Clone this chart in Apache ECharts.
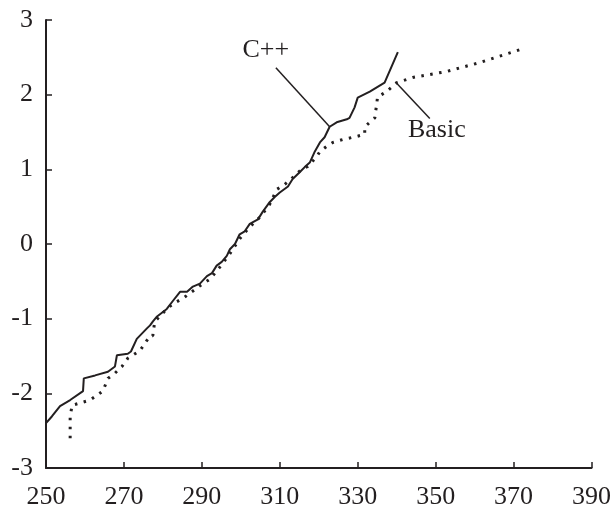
<!DOCTYPE html>
<html>
<head>
<meta charset="utf-8">
<script src="https://cdn.jsdelivr.net/npm/echarts@6/dist/echarts.min.js"></script>
<style>
html,body{margin:0;padding:0;background:#fff;}
#chart{width:614px;height:510px;}
</style>
</head>
<body>
<div id="chart"></div>
<script>
// C++ series: observed value vs normal quantile
var cppValues = [250.0,251.5,253.6,256.2,259.5,259.7,262.6,265.9,267.7,268.2,271.0,271.8,273.3,275.9,276.7,277.4,278.5,281.0,282.6,284.4,286.2,287.7,289.5,291.3,292.6,293.8,295.1,296.4,297.2,298.5,299.7,301.0,302.3,304.4,305.6,307.4,308.7,310.0,312.1,313.3,315.1,316.4,317.7,319.0,320.3,321.5,322.8,324.6,327.2,327.9,329.2,330.0,333.1,336.9,340.3];
var cppQuantiles = [-2.40,-2.31,-2.17,-2.09,-1.97,-1.80,-1.76,-1.71,-1.64,-1.49,-1.47,-1.44,-1.27,-1.13,-1.09,-1.04,-0.97,-0.87,-0.76,-0.64,-0.64,-0.57,-0.53,-0.43,-0.39,-0.29,-0.24,-0.16,-0.07,0.00,0.13,0.17,0.27,0.33,0.43,0.56,0.63,0.69,0.77,0.87,0.96,1.03,1.09,1.24,1.36,1.43,1.57,1.63,1.67,1.69,1.83,1.96,2.04,2.16,2.57];
// Basic series
var basicValues = [256.2,256.2,256.7,258.7,261.3,264.6,265.9,267.7,269.5,271.0,274.1,276.7,277.4,277.9,281.0,282.6,285.1,287.7,289.5,292.1,294.6,297.2,299.7,302.3,304.9,307.4,309.2,311.3,313.3,315.6,317.2,319.5,320.3,322.1,323.6,326.2,329.7,331.8,331.8,334.4,335.1,337.4,340.0,344.1,352.8,361.3,371.5];
var basicQuantiles = [-2.60,-2.31,-2.16,-2.13,-2.09,-1.97,-1.80,-1.73,-1.64,-1.53,-1.43,-1.23,-1.23,-1.04,-0.87,-0.80,-0.73,-0.63,-0.56,-0.47,-0.31,-0.13,0.07,0.23,0.36,0.53,0.73,0.80,0.89,1.00,1.04,1.17,1.24,1.31,1.36,1.40,1.44,1.47,1.57,1.69,1.97,2.04,2.16,2.23,2.31,2.43,2.60];
// annotation labels
var labelNames = ['C++','Basic'];
var labelPos = [[306.4,2.59],[350.3,1.52]];
var pointerFrom = [[309.0,2.36],[339.7,2.17]];
var pointerTo = [[322.8,1.57],[348.5,1.68]];
var xTicks = [250,270,290,310,330,350,370,390];
var yTicks = [-3,-2,-1,0,1,2,3];

function pairs(a,b){ return a.map(function(v,i){ return [v,b[i]]; }); }

var font = 'Liberation Serif';
var ink = '#231f20';
var chart = echarts.init(document.getElementById('chart'), null, {renderer:'canvas'});
chart.setOption({
  animation:false,
  backgroundColor:'#fff',
  grid:{left:46,right:22,top:20,bottom:40,containLabel:false},
  xAxis:{type:'value',min:xTicks[0],max:xTicks[xTicks.length-1],interval:20,
    axisLine:{onZero:false,lineStyle:{color:ink,width:2}},
    axisTick:{inside:true,length:6,lineStyle:{color:ink,width:1.5}},
    axisLabel:{margin:16,fontFamily:font,fontSize:26,color:ink},
    splitLine:{show:false}},
  yAxis:{type:'value',min:yTicks[0],max:yTicks[yTicks.length-1],interval:1,
    axisLine:{show:true,onZero:false,lineStyle:{color:ink,width:2}},
    axisTick:{show:true,inside:true,length:6,lineStyle:{color:ink,width:1.5}},
    axisLabel:{margin:13,fontFamily:font,fontSize:26,color:ink},
    splitLine:{show:false}},
  series:[
    {type:'line',name:'C++',data:pairs(cppValues,cppQuantiles),showSymbol:false,
     lineStyle:{color:ink,width:2},
     markLine:{silent:true,symbol:'none',label:{show:false},
       lineStyle:{color:ink,width:1.5,type:'solid'},
       data:[[{coord:pointerFrom[0]},{coord:pointerTo[0]}],[{coord:pointerFrom[1]},{coord:pointerTo[1]}]]},
     markPoint:{silent:true,symbol:'circle',symbolSize:0,
       label:{show:true,fontFamily:font,fontSize:26,color:ink,position:'inside'},
       data:[{coord:labelPos[0],value:labelNames[0],label:{formatter:labelNames[0]}},
             {coord:labelPos[1],value:labelNames[1],label:{formatter:labelNames[1]}}]}
    },
    {type:'line',name:'Basic',data:pairs(basicValues,basicQuantiles),showSymbol:false,
     lineStyle:{color:ink,width:3,type:[2.5,6.5]}}
  ]
});
</script>
</body>
</html>
